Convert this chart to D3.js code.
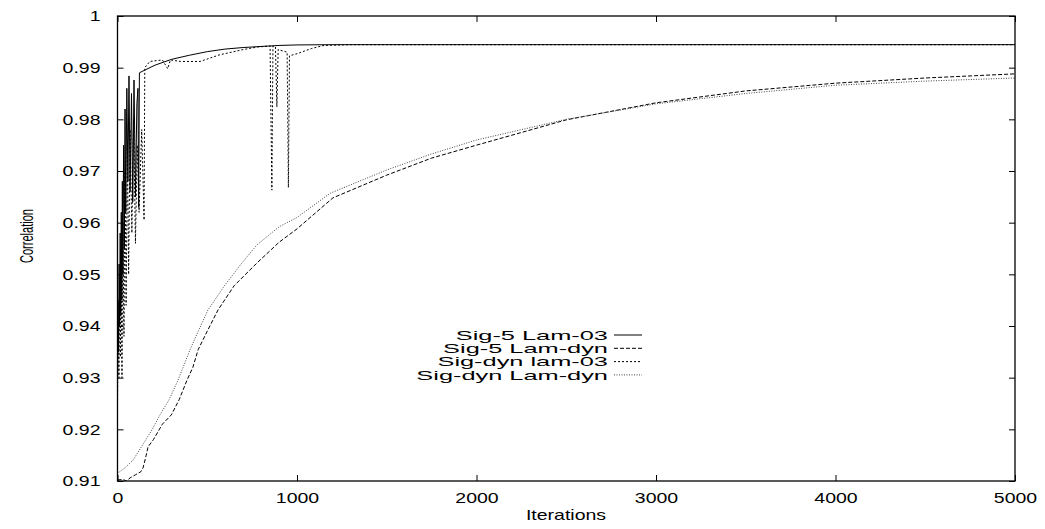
<!DOCTYPE html>
<html>
<head>
<meta charset="utf-8">
<script src="https://cdn.jsdelivr.net/npm/d3@7"></script>
<style>
  body { margin: 0; background: #fff; }
  text { font-family: "Liberation Sans", Arial, sans-serif; fill: #000; }
</style>
</head>
<body>
<div id="chart"></div>
<script>
// Data: [iteration, correlation]
const sig5Lam03 = [
  [0, 0.930], [3, 0.945], [6, 0.935], [9, 0.952], [12, 0.940], [15, 0.958], [18, 0.942],
  [21, 0.962], [24, 0.945], [27, 0.968], [30, 0.950], [34, 0.975], [38, 0.955], [42, 0.982],
  [46, 0.962], [52, 0.986], [58, 0.968], [64, 0.9884], [70, 0.966], [78, 0.985], [85, 0.964],
  [92, 0.9876], [100, 0.965], [108, 0.983], [114, 0.986], [118, 0.963], [122, 0.989],
  [150, 0.9895], [210, 0.9905], [300, 0.9916], [400, 0.9924], [500, 0.9931], [600, 0.9936],
  [700, 0.9939], [800, 0.9941], [900, 0.9943], [1000, 0.9944], [1200, 0.99445], [5000, 0.99445]
];
const sig5LamDyn = [
  [0, 0.9102], [30, 0.9103], [50, 0.9100], [70, 0.9106], [100, 0.9112], [130, 0.9118],
  [142, 0.9125], [160, 0.9150], [170, 0.9166], [200, 0.9180], [250, 0.9210], [300, 0.9228],
  [343, 0.9257], [387, 0.9295], [420, 0.9320], [449, 0.9354], [500, 0.9390], [560, 0.9431],
  [650, 0.9478], [777, 0.9522], [900, 0.9562], [1000, 0.9588], [1200, 0.9648], [1500, 0.9692],
  [1750, 0.9725], [2000, 0.9750], [2500, 0.9799], [3000, 0.9832], [3500, 0.9855],
  [4000, 0.9870], [4500, 0.9880], [5000, 0.9888]
];
const sigDynLam03 = [
  [0, 0.925], [4, 0.940], [8, 0.930], [12, 0.950], [16, 0.934], [20, 0.955], [25, 0.930],
  [30, 0.960], [36, 0.938], [42, 0.970], [48, 0.944], [55, 0.975], [62, 0.950], [70, 0.978],
  [80, 0.958], [90, 0.980], [100, 0.956], [110, 0.975], [120, 0.962], [135, 0.978],
  [148, 0.9605], [152, 0.9900], [180, 0.9912], [250, 0.9915], [280, 0.9898], [295, 0.9915],
  [350, 0.9912], [460, 0.9912], [570, 0.9925], [700, 0.9935], [780, 0.9940], [850, 0.9942],
  [860, 0.9663], [866, 0.9942], [880, 0.9940], [888, 0.9824], [895, 0.9935], [945, 0.9930],
  [952, 0.9668], [958, 0.9923], [1000, 0.9927], [1080, 0.9937], [1150, 0.9943],
  [1300, 0.99445], [5000, 0.99445]
];
const sigDynLamDyn = [
  [0, 0.9115], [40, 0.9125], [86, 0.9140], [140, 0.9170], [192, 0.9199], [240, 0.9230],
  [287, 0.9257], [337, 0.9295], [404, 0.9354], [450, 0.9390], [504, 0.9431], [600, 0.9480],
  [700, 0.9525], [777, 0.9557], [900, 0.9592], [1000, 0.9610], [1185, 0.9657], [1500, 0.9702],
  [1750, 0.9733], [2000, 0.9760], [2500, 0.9800], [3000, 0.9830], [3500, 0.9850],
  [4000, 0.9866], [4500, 0.9874], [5000, 0.9880]
];

const seriesNames = ["Sig-5 Lam-03", "Sig-5 Lam-dyn", "Sig-dyn lam-03", "Sig-dyn Lam-dyn"];
const xTicks = [0, 1000, 2000, 3000, 4000, 5000];
const yTicks = [0.91, 0.92, 0.93, 0.94, 0.95, 0.96, 0.97, 0.98, 0.99, 1];
const yTickLabels = ["0.91", "0.92", "0.93", "0.94", "0.95", "0.96", "0.97", "0.98", "0.99", "1"];

const W = 1045, H = 529;
const margin = { top: 16, right: 30, bottom: 48, left: 117.5 };
const width = W - margin.left - margin.right;
const height = H - margin.top - margin.bottom;

const svg = d3.select("#chart").append("svg")
  .attr("width", W).attr("height", H);
const g = svg.append("g").attr("transform", `translate(${margin.left},${margin.top})`);

const x = d3.scaleLinear().domain([0, 5000]).range([0, width]);
const y = d3.scaleLinear().domain([0.91, 1]).range([height, 0]);

// stretch text horizontally to match the wide lettering of the original
function stretch(sel, f) {
  sel.each(function () {
    const w = this.getComputedTextLength();
    d3.select(this).attr("textLength", w * f).attr("lengthAdjust", "spacingAndGlyphs");
  });
}

// Axes with inward ticks
const yAxis = g.append("g")
  .call(d3.axisLeft(y).tickValues(yTicks).tickSize(-6).tickSizeOuter(0).tickPadding(17)
    .tickFormat((d, i) => yTickLabels[i]));
const xAxis = g.append("g")
  .attr("transform", `translate(0,${height})`)
  .call(d3.axisBottom(x).tickValues(xTicks).tickSize(-6).tickSizeOuter(0).tickPadding(11)
    .tickFormat(d3.format("d")));
g.append("g").attr("transform", `translate(${width},0)`)
  .call(d3.axisRight(y).tickValues(yTicks).tickSize(-6).tickSizeOuter(0).tickFormat(""));
g.append("g")
  .call(d3.axisTop(x).tickValues(xTicks).tickSize(-6).tickSizeOuter(0).tickFormat(""));

g.selectAll(".domain").remove();
g.selectAll(".tick line").attr("stroke", "#000");
[yAxis, xAxis].forEach(a => {
  a.selectAll("text")
    .style("font-family", '"Liberation Sans", Arial, sans-serif')
    .style("font-size", "15px").attr("fill", "#000");
  stretch(a.selectAll("text"), 1.3);
});

// Lines
g.append("clipPath").attr("id", "clip")
  .append("rect").attr("width", width).attr("height", height);

const line = d3.line().x(d => x(d[0])).y(d => y(d[1]));
const styles = [
  { data: sig5Lam03, dash: null, color: "#000" },
  { data: sig5LamDyn, dash: "4,2", color: "#000" },
  { data: sigDynLam03, dash: "2,2", color: "#000" },
  { data: sigDynLamDyn, dash: "1,1.5", color: "#444" }
];

g.append("g").attr("clip-path", "url(#clip)")
  .selectAll("path").data(styles).enter().append("path")
  .attr("d", d => line(d.data))
  .attr("fill", "none")
  .attr("stroke", d => d.color)
  .attr("stroke-width", 1)
  .attr("stroke-dasharray", d => d.dash);

// Frame
g.append("rect").attr("width", width).attr("height", height)
  .attr("fill", "none").attr("stroke", "#000").attr("stroke-width", 1.3);

// Legend
const legend = g.selectAll(".legend").data(seriesNames).enter().append("g")
  .attr("class", "legend")
  .attr("transform", (d, i) => `translate(0,${319 + i * 13.3})`);
legend.append("text")
  .attr("x", 608 - margin.left).attr("y", 4.8)
  .attr("text-anchor", "end")
  .style("font-size", "13px")
  .text(d => d);
stretch(legend.selectAll("text"), 1.95);
legend.append("line")
  .attr("x1", 614 - margin.left).attr("x2", 642 - margin.left)
  .attr("stroke", (d, i) => styles[i].color)
  .attr("stroke-width", 1)
  .attr("stroke-dasharray", (d, i) => styles[i].dash);

// Axis titles
const xt = svg.append("text")
  .attr("x", 566).attr("y", 520)
  .attr("text-anchor", "middle")
  .style("font-size", "15px")
  .text("Iterations");
stretch(xt, 1.3);

svg.append("text")
  .attr("transform", "translate(33,236) rotate(-90)")
  .attr("text-anchor", "middle")
  .style("font-size", "18px")
  .attr("textLength", 54).attr("lengthAdjust", "spacingAndGlyphs")
  .text("Correlation");
</script>
</body>
</html>
